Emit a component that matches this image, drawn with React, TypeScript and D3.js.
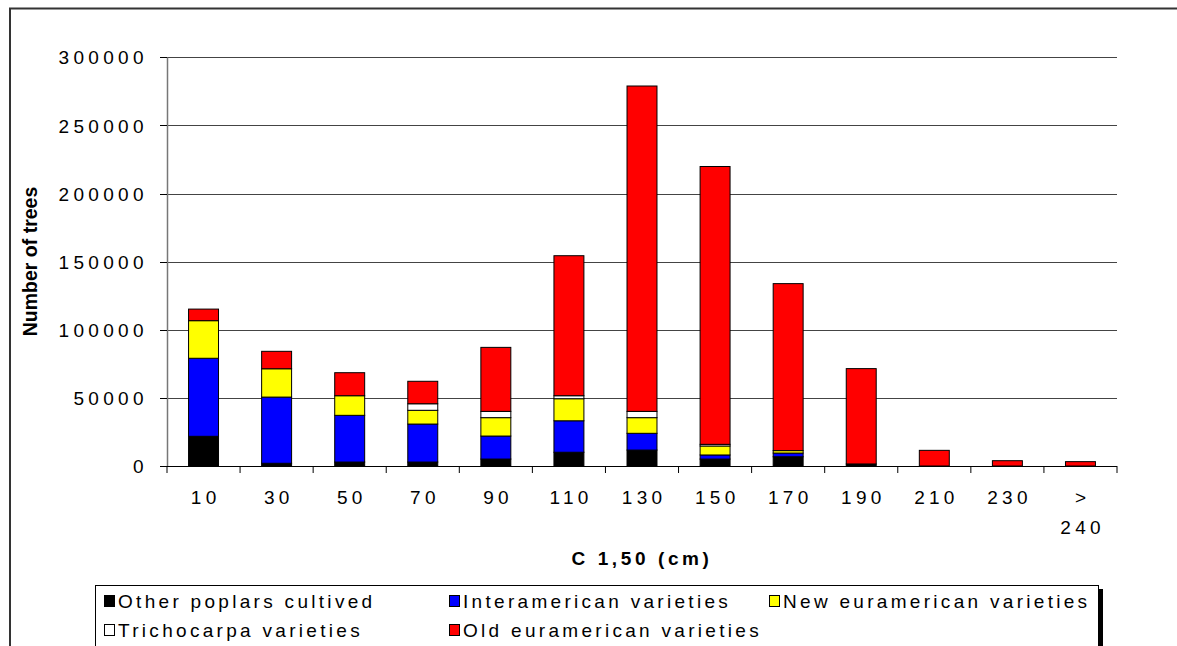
import React from "react";
import * as d3 from "d3";

// Girth classes (cm at 1.50 m)
const categories = ["10", "30", "50", "70", "90", "110", "130", "150", "170", "190", "210", "230", "> 240"];

// Number of trees per group, by girth class
const otherPoplars = [21800, 2000, 2900, 2900, 5100, 10100, 11700, 5100, 6800, 1500, 0, 0, 0];
const interamerican = [57300, 48600, 34300, 27900, 16900, 23100, 12300, 3000, 2700, 0, 0, 0, 0];
const newEuramerican = [27600, 20800, 14400, 10100, 13500, 16200, 11500, 6600, 1800, 0, 0, 0, 0];
const trichocarpa = [0, 0, 0, 4800, 4600, 2200, 4600, 1200, 0, 0, 0, 0, 0];
const oldEuramerican = [8500, 12800, 16900, 16500, 47000, 102800, 238900, 204000, 122600, 70000, 11500, 3900, 3200];

const yTicks = [0, 50000, 100000, 150000, 200000, 250000, 300000];

const seriesKeys = ["other", "inter", "newEu", "tricho", "oldEu"];
const seriesNames = [
  "Other poplars cultived",
  "Interamerican varieties",
  "New euramerican varieties",
  "Trichocarpa varieties",
  "Old euramerican varieties",
];
const seriesColors = ["#000000", "#0000ff", "#ffff00", "#ffffff", "#ff0000"];

const rows = categories.map((c, i) => ({
  cat: c,
  other: otherPoplars[i],
  inter: interamerican[i],
  newEu: newEuramerican[i],
  tricho: trichocarpa[i],
  oldEu: oldEuramerican[i],
}));

const W = 1177;
const H = 646;
const FONT = "Arial, 'Liberation Sans', Helvetica, sans-serif";

export default function App() {
  const left = 167;
  const right = 1117;
  const x = d3
    .scaleBand<string>()
    .domain(categories)
    .range([left, right])
    .paddingInner(0.59)
    .paddingOuter(0.295);
  const y = d3.scaleLinear().domain([0, 300000]).range([466, 57.4]);
  const stacked = d3.stack<any>().keys(seriesKeys)(rows);
  const step = x.step();

  const tickLs = 4.3;
  const legendLs = 3.3;

  // legend layout: columns / rows
  const legendCols = [104, 449, 769];
  const legendRows = [601, 630];
  const legendPos = [
    [0, 0],
    [1, 0],
    [2, 0],
    [0, 1],
    [1, 1],
  ];

  return (
    <svg
      width={W}
      height={H}
      style={{ position: "absolute", left: 0, top: 0, background: "#fff" }}
      fontFamily={FONT}
    >
      {/* outer chart frame (top and left edges inside the view) */}
      <path d={`M10,${H} V8.5 H${W}`} fill="none" stroke="#333" strokeWidth={2} />

      {/* gridlines */}
      {yTicks.slice(1).map((t) => (
        <line key={"g" + t} x1={left} x2={right} y1={Math.round(y(t)) + 0.5} y2={Math.round(y(t)) + 0.5} stroke="#444" strokeWidth={1} />
      ))}

      {/* y axis */}
      <line x1={left + 0.5} x2={left + 0.5} y1={y(300000)} y2={y(0)} stroke="#777" strokeWidth={1.5} />
      {yTicks.map((t) => (
        <g key={"yt" + t}>
          <line x1={160} x2={left} y1={Math.round(y(t)) + 0.5} y2={Math.round(y(t)) + 0.5} stroke="#000" />
          <text
            x={143.5 + tickLs}
            y={y(t) + 7}
            textAnchor="end"
            fontSize={19}
            letterSpacing={tickLs}
            fill="#000"
          >
            {t}
          </text>
        </g>
      ))}

      {/* bars */}
      {stacked.map((s, si) =>
        s.map((d, i) => {
          const h = y(d[0]) - y(d[1]);
          if (h <= 0) return null;
          return (
            <rect
              key={si + "-" + i}
              x={x(categories[i])}
              y={y(d[1])}
              width={x.bandwidth()}
              height={h}
              fill={seriesColors[si]}
              stroke="#000"
              strokeWidth={1}
            />
          );
        })
      )}

      {/* x axis */}
      <line x1={left} x2={right} y1={466.5} y2={466.5} stroke="#000" strokeWidth={1} />
      {d3.range(categories.length + 1).map((i) => (
        <line key={"xt" + i} x1={left + i * step} x2={left + i * step} y1={466} y2={473} stroke="#000" />
      ))}
      {categories.map((c) => {
        const cx = (x(c) as number) + x.bandwidth() / 2 + tickLs / 2;
        const parts = c.split(" ");
        return (
          <text key={"xl" + c} x={cx} y={504} textAnchor="middle" fontSize={19} letterSpacing={tickLs} fill="#000">
            {parts.map((p, k) => (
              <tspan key={k} x={cx} dy={k === 0 ? 0 : 30}>
                {p}
              </tspan>
            ))}
          </text>
        );
      })}

      {/* axis titles */}
      <text
        x={642}
        y={565}
        textAnchor="middle"
        fontSize={19}
        fontWeight="bold"
        letterSpacing={3.6}
        fill="#000"
      >
        C 1,50 (cm)
      </text>
      <text
        transform="translate(36.5,261.5) rotate(-90)"
        textAnchor="middle"
        fontSize={19.5}
        fontWeight="bold"
        fill="#000"
      >
        Number of trees
      </text>

      {/* legend */}
      <rect x={99} y={589} width={1004} height={80} fill="#000" />
      <rect x={95.5} y={585.5} width={1003} height={80} fill="#fff" stroke="#000" strokeWidth={1} />
      {seriesNames.map((name, i) => {
        const [c, r] = legendPos[i];
        const lx = legendCols[c];
        const ly = legendRows[r];
        return (
          <g key={"lg" + i}>
            <rect x={lx + 0.5} y={ly - 5.5} width={10} height={11} fill={seriesColors[i]} stroke="#000" strokeWidth={1} />
            <text x={lx + 14} y={ly + 7} fontSize={19} letterSpacing={legendLs} fill="#000">
              {name}
            </text>
          </g>
        );
      })}
    </svg>
  );
}
